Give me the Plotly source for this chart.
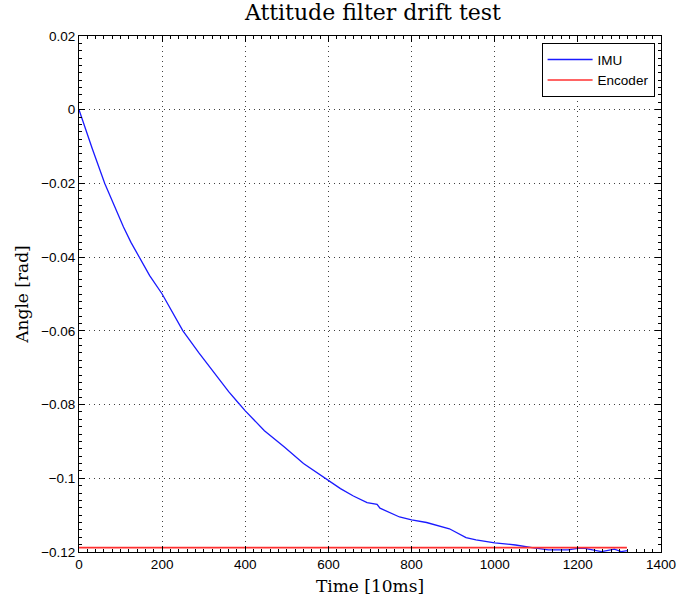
import plotly.graph_objects as go

# IMU attitude estimate
imu_time = [0, 15, 32, 62, 85, 107, 125, 147, 170, 200, 225, 250, 288, 328, 360, 383,
            400, 446, 494, 540, 593, 629, 660, 693, 717, 724, 771, 800, 836, 891, 931,
            955, 1000, 1050, 1090, 1129, 1176, 1200, 1217, 1257, 1288, 1304, 1319]
imu_angle = [0, -0.0052, -0.0106, -0.0200, -0.0262, -0.0318, -0.0360, -0.0405, -0.0450,
             -0.0500, -0.0552, -0.0600, -0.0659, -0.0717, -0.0765, -0.0795, -0.0817,
             -0.0871, -0.0915, -0.0960, -0.1000, -0.1028, -0.1048, -0.1066, -0.1071,
             -0.1081, -0.1105, -0.1113, -0.1120, -0.1137, -0.1161, -0.1167, -0.1175,
             -0.1181, -0.1188, -0.1194, -0.1194, -0.1190, -0.1190, -0.1199, -0.1192,
             -0.1199, -0.1196]

# Encoder reference
enc_time = [0, 1318]
enc_angle = [-0.1188, -0.1188]

x_ticks = [0, 200, 400, 600, 800, 1000, 1200, 1400]
y_ticks = [0.02, 0, -0.02, -0.04, -0.06, -0.08, -0.1, -0.12]
y_tick_text = ["0.02", "0", "\u22120.02", "\u22120.04", "\u22120.06", "\u22120.08", "\u22120.1", "\u22120.12"]

serif = "DejaVu Serif, serif"
sans = "Liberation Sans, Arial, sans-serif"

fig = go.Figure()
fig.add_trace(go.Scatter(x=imu_time, y=imu_angle, mode="lines", name="IMU",
                         line=dict(color="#1a1aff", width=1.3)))
fig.add_trace(go.Scatter(x=enc_time, y=enc_angle, mode="lines", name="Encoder",
                         line=dict(color="#ff3030", width=1.6)))

axis_common = dict(
    showline=True, linecolor="black", linewidth=1, mirror="ticks",
    ticks="inside", ticklen=6, tickcolor="black",
    showgrid=True, gridcolor="rgba(0,0,0,0.75)", gridwidth=1, griddash="1px,4px",
    zeroline=False,
    tickfont=dict(family=sans, size=13.5, color="black"),
)

fig.update_xaxes(range=[0, 1400], tickvals=x_ticks,
                 title=dict(text="Time [10ms]", standoff=8,
                            font=dict(family=serif, size=17, color="black")),
                 minor=dict(ticks="inside", ticklen=3, dtick=20, tickcolor="black", showgrid=False),
                 **axis_common)
fig.update_yaxes(range=[-0.12, 0.02], tickvals=y_ticks, ticktext=y_tick_text,
                 title=dict(text="Angle [rad]", standoff=8,
                            font=dict(family=serif, size=17, color="black")),
                 minor=dict(ticks="inside", ticklen=3, dtick=0.002, tickcolor="black", showgrid=False),
                 **axis_common)

fig.update_layout(
    width=688, height=604,
    margin=dict(l=79, r=20, t=36, b=52),
    paper_bgcolor="white", plot_bgcolor="white",
    title=dict(text="Attitude filter drift test", x=0.542, xanchor="center", y=0.992, yanchor="top",
               font=dict(family=serif, size=22, color="black")),
    legend=dict(x=0.989, y=0.986, xanchor="right", yanchor="top",
                bgcolor="white", bordercolor="black", borderwidth=1,
                font=dict(family=sans, size=13.5, color="black"),
                tracegroupgap=0, itemwidth=45),
    showlegend=True,
)

fig.write_html("out.html")
